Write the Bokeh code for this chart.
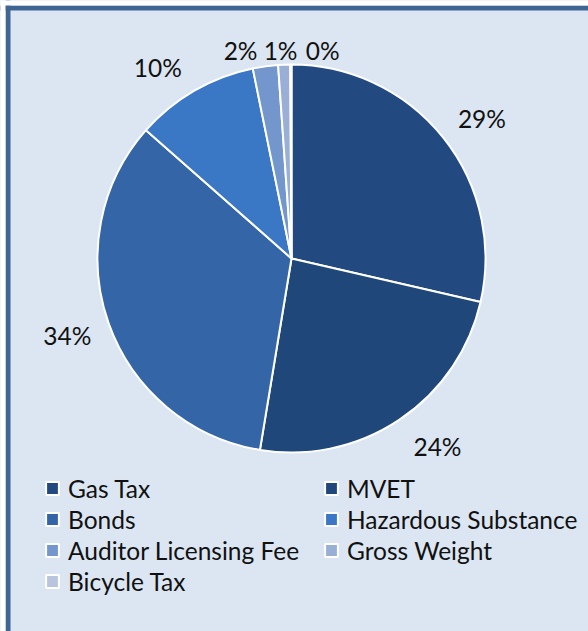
import numpy as np
from bokeh.plotting import figure
from bokeh.models import ColumnDataSource, Range1d, Legend, LegendItem, Span
from bokeh.core.properties import value
from bokeh.embed import file_html
from bokeh.resources import INLINE

# ---- data ----
categories = ["Gas Tax", "MVET", "Bonds", "Hazardous Substance",
              "Auditor Licensing Fee", "Gross Weight", "Bicycle Tax"]
shares = [28.6, 24.0, 33.9, 10.3, 2.1, 1.0, 0.1]
pct_labels = ["29%", "24%", "34%", "10%", "2%", "1%", "0%"]

# ---- styles / layout ----
colors = ["#234a80", "#1f4779", "#3365a7", "#3a77c4", "#7396cd", "#9aafd6", "#b9c5de"]
label_nudge_x = [5, 14, -1, -15, -19, -2, 32]
label_nudge_y = [8, -9, -3, 14, 27, 29, 29]   # screen px, positive = down

W, H = 588, 631
cx, cy = 291, 373
R = 194
R_lab = 237
FONT = "Lato"
FS = "24.5px"
BG = "#dce6f2"
EDGE = "#3f6592"

vals = np.array(shares, dtype=float)
frac = vals / vals.sum()
cum_end = np.cumsum(frac)
cum_start = cum_end - frac
start = np.pi / 2 - 2 * np.pi * cum_start
end = np.pi / 2 - 2 * np.pi * cum_end
mid = 2 * np.pi * (cum_start + cum_end) / 2  # clockwise from top

lx = cx + R_lab * np.sin(mid) + np.array(label_nudge_x)
ly = cy + R_lab * np.cos(mid) - np.array(label_nudge_y)

src = ColumnDataSource(dict(cat=categories, start=start, end=end, color=colors,
                            lx=lx, ly=ly, lab=pct_labels))

p = figure(width=W, height=H, output_backend="svg", toolbar_location=None,
           x_range=Range1d(0, W), y_range=Range1d(0, H), min_border=0)
p.axis.visible = False
p.grid.visible = False
p.outline_line_color = None
p.background_fill_color = BG
p.border_fill_color = BG

r = p.wedge(x=cx, y=cy, radius=R, start_angle="start", end_angle="end",
            direction="clock", fill_color="color", line_color="white",
            line_width=2, source=src)

p.text(x="lx", y="ly", text="lab", source=src, text_align="center",
       text_baseline="middle", text_font=value(FONT), text_font_size=FS,
       text_color="#111111")

# chart-area border: left and top edges (right/bottom fall outside the picture)
p.add_layout(Span(location=7.5, dimension="height", line_color=EDGE, line_width=5))
p.add_layout(Span(location=H - 7.5, dimension="width", line_color=EDGE, line_width=5))
p.add_layout(Span(location=2.5, dimension="height", line_color="white", line_width=5))
p.add_layout(Span(location=H - 2.5, dimension="width", line_color="white", line_width=5))

col1 = [0, 2, 4, 6]
col2 = [1, 3, 5]
for idxs, loc in ((col1, (44, 34.5)), (col2, (323, 65.5))):
    leg = Legend(items=[LegendItem(label=categories[i], renderers=[r], index=i) for i in idxs],
                 location=loc, orientation="vertical", padding=0, margin=0, spacing=0,
                 label_height=31, glyph_height=16, glyph_width=16, label_standoff=8,
                 label_text_font=FONT, label_text_font_size=FS, label_text_color="#111111",
                 background_fill_alpha=0, border_line_alpha=0)
    p.add_layout(leg, "center")

open("out.html", "w").write(file_html(p, INLINE))
